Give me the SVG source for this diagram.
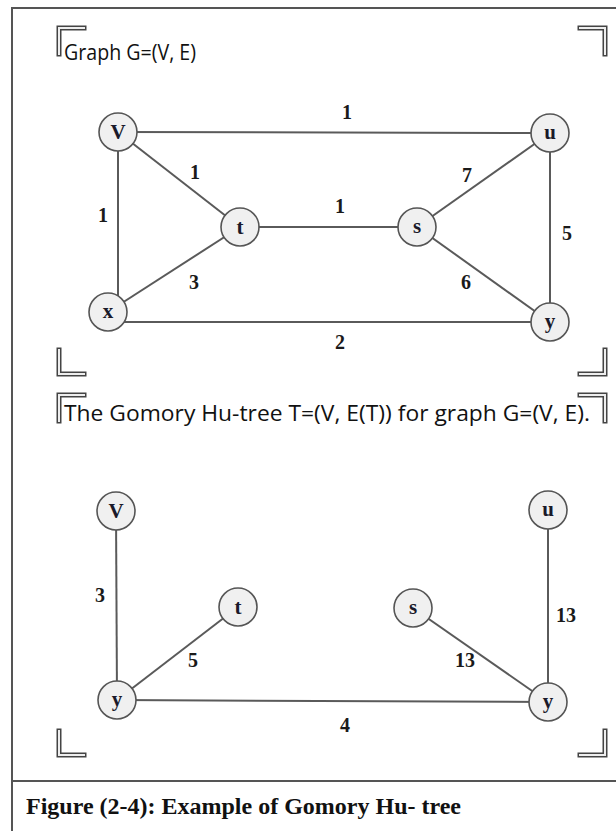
<svg xmlns="http://www.w3.org/2000/svg" width="616" height="831" viewBox="0 0 616 831">
<style>
.frame{stroke:#555;stroke-width:2;fill:none}
.edge{stroke:#5a5a5a;stroke-width:2;fill:none}
.node circle{fill:#f0f0f0;stroke:#555;stroke-width:1.6}
.node text{font-family:"Liberation Serif","Times New Roman",serif;font-weight:bold;font-size:21px;fill:#1a1a2a;text-anchor:middle}
.lbl{font-family:"Liberation Serif","Times New Roman",serif;font-weight:bold;font-size:20px;fill:#1a1a1a;text-anchor:middle}
.title{font-family:"Open Sans","Liberation Sans",sans-serif;font-size:21px;fill:#111}
.caption{font-family:"Liberation Serif","Times New Roman",serif;font-weight:bold;font-size:24px;fill:#111}
.br-o{stroke:#444;stroke-width:5;fill:none;stroke-linecap:square}
.br-i{stroke:#eee;stroke-width:2;fill:none;stroke-linecap:square}
</style>
<defs>
<g id="brTL"><path class="br-o" d="M0,26 L0,0 L25,0"/><path class="br-i" d="M0,26 L0,0 L25,0"/></g>
<g id="brTR"><path class="br-o" d="M-25,0 L0,0 L0,26"/><path class="br-i" d="M-25,0 L0,0 L0,26"/></g>
<g id="brBL"><path class="br-o" d="M0,-24 L0,0 L25,0"/><path class="br-i" d="M0,-24 L0,0 L25,0"/></g>
<g id="brBR"><path class="br-o" d="M-25,0 L0,0 L0,-24"/><path class="br-i" d="M-25,0 L0,0 L0,-24"/></g>
</defs>
<rect x="0" y="0" width="616" height="831" fill="#fff"/>
<g id="frame">
<path class="frame" d="M12,831 L12,8 L616,8"/>
<path class="frame" d="M12,781 L616,781"/>
</g>
<g id="brackets">
<use href="#brTL" x="59" y="28"/>
<use href="#brTR" x="605" y="28"/>
<use href="#brBL" x="59" y="374"/>
<use href="#brBR" x="605" y="374"/>
<use href="#brTL" x="59" y="395"/>
<use href="#brTR" x="605" y="395"/>
<use href="#brBL" x="59" y="755"/>
<use href="#brBR" x="605" y="755"/>
</g>
<text class="title" x="64" y="60" textLength="132" lengthAdjust="spacingAndGlyphs">Graph G=(V, E)</text>
<text class="title" x="64" y="421" textLength="526" lengthAdjust="spacingAndGlyphs">The Gomory Hu-tree T=(V, E(T)) for graph G=(V, E).</text>
<text class="caption" x="26" y="814">Figure (2-4): Example of Gomory Hu- tree</text>
<g id="connectors">
<line class="edge" x1="118" y1="132" x2="550" y2="133"/>
<line class="edge" x1="118" y1="132" x2="240" y2="227"/>
<line class="edge" x1="118" y1="132" x2="118" y2="300"/>
<line class="edge" x1="108" y1="312" x2="240" y2="227"/>
<line class="edge" x1="240" y1="227" x2="417" y2="227"/>
<line class="edge" x1="417" y1="227" x2="550" y2="133"/>
<line class="edge" x1="417" y1="227" x2="550" y2="322"/>
<line class="edge" x1="550" y1="133" x2="550" y2="322"/>
<line class="edge" x1="120" y1="322" x2="550" y2="322"/>
<line class="edge" x1="116" y1="511" x2="117" y2="700"/>
<line class="edge" x1="238" y1="607" x2="117" y2="700"/>
<line class="edge" x1="117" y1="700" x2="548" y2="702"/>
<line class="edge" x1="413" y1="608" x2="548" y2="702"/>
<line class="edge" x1="548" y1="510" x2="548" y2="702"/>
</g>
<g id="edge-labels">
<text class="lbl" x="347" y="119">1</text>
<text class="lbl" x="195" y="179">1</text>
<text class="lbl" x="103" y="222">1</text>
<text class="lbl" x="194" y="289">3</text>
<text class="lbl" x="340" y="213">1</text>
<text class="lbl" x="467" y="182">7</text>
<text class="lbl" x="567" y="240">5</text>
<text class="lbl" x="466" y="289">6</text>
<text class="lbl" x="340" y="349">2</text>
<text class="lbl" x="100" y="602">3</text>
<text class="lbl" x="193" y="667">5</text>
<text class="lbl" x="345" y="732">4</text>
<text class="lbl" x="465" y="667">13</text>
<text class="lbl" x="566" y="622">13</text>
</g>
<g id="node-V" class="node"><circle cx="118" cy="132" r="19"/><text x="118" y="139">V</text></g>
<g id="node-t" class="node"><circle cx="240" cy="227" r="19"/><text x="240" y="234">t</text></g>
<g id="node-x" class="node"><circle cx="108" cy="312" r="19"/><text x="108" y="318">x</text></g>
<g id="node-s" class="node"><circle cx="417" cy="227" r="19"/><text x="417" y="233">s</text></g>
<g id="node-u" class="node"><circle cx="550" cy="133" r="19"/><text x="550" y="139">u</text></g>
<g id="node-y" class="node"><circle cx="550" cy="322" r="19"/><text x="550" y="328">y</text></g>
<g id="tree-V" class="node"><circle cx="116" cy="511" r="19"/><text x="116" y="518">V</text></g>
<g id="tree-t" class="node"><circle cx="238" cy="607" r="19"/><text x="238" y="614">t</text></g>
<g id="tree-s" class="node"><circle cx="413" cy="608" r="19"/><text x="413" y="614">s</text></g>
<g id="tree-u" class="node"><circle cx="548" cy="510" r="19"/><text x="548" y="516">u</text></g>
<g id="tree-y1" class="node"><circle cx="117" cy="700" r="19"/><text x="117" y="706">y</text></g>
<g id="tree-y2" class="node"><circle cx="548" cy="702" r="19"/><text x="548" y="708">y</text></g>
</svg>
